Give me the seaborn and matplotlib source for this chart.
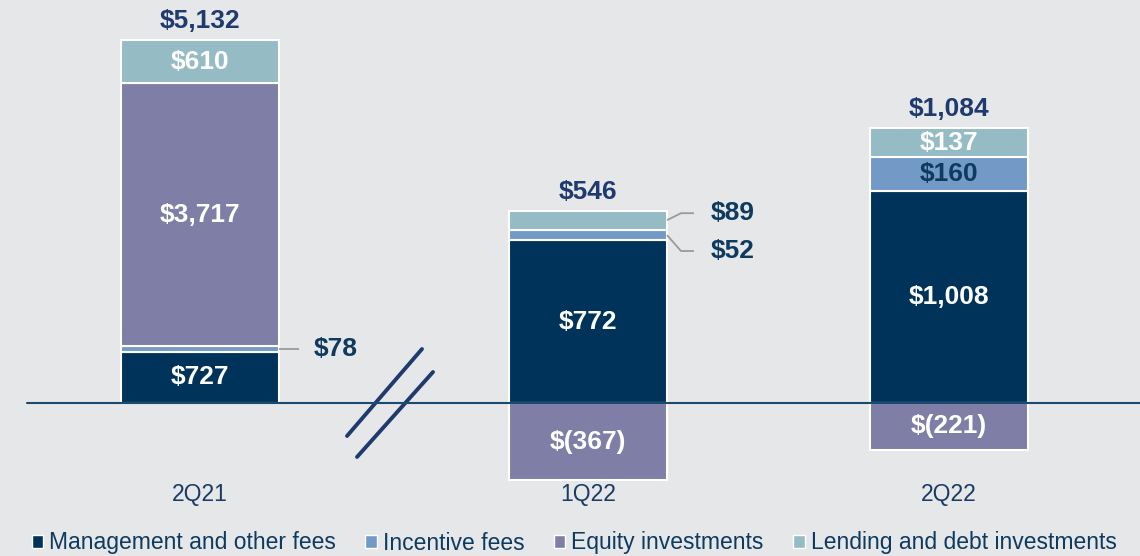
import matplotlib
matplotlib.use("Agg")
import matplotlib.pyplot as plt
from matplotlib.patches import Patch
import seaborn as sns

# data
periods = ["2Q21", "1Q22", "2Q22"]
management_fees = [727, 772, 1008]
incentive_fees = [78, 52, 160]
equity_investments = [3717, -367, -221]
lending_debt = [610, 89, 137]
totals = [5132, 546, 1084]
series_names = [
    "Management and other fees",
    "Incentive fees",
    "Equity investments",
    "Lending and debt investments",
]

# style / layout
colors = ["#003359", "#739ac7", "#7e7ea6", "#95bbc5"]
bg = "#e6e7e9"
navy = "#1f3a6e"
callout_color = "#0e3a60"
x_pos = [200, 588, 949]
bar_width = 158
bar_scale = [0.336, 1.0, 1.0]  # 2Q21 drawn on broken (compressed) axis
ppu = 0.2105  # pixels per unit
W, H = 1140, 556
base_px = 403

sns.set_theme(style="white", context="paper")
plt.rcParams["font.family"] = ["Liberation Sans", "DejaVu Sans"]

fig = plt.figure(figsize=(W / 100, H / 100), dpi=100, facecolor=bg)
ax = fig.add_axes([0, 0, 1, 1], facecolor=bg)
ax.set_xlim(0, W)
ax.set_ylim(-(H - base_px) / ppu, base_px / ppu)
ax.axis("off")


def py(p):
    # pixel row (from top) -> data y
    return (base_px - p) / ppu


series = [management_fees, incentive_fees, equity_investments, lending_debt]
# (dy px, line length px, text gap px, text)
callouts = {
    (0, 1): (0, 20, 35, "$78"),
    (1, 1): (16, 27, 44, "$52"),
    (1, 3): (-7, 27, 44, "$89"),
}
dark_labels = {(2, 1)}

for i, x in enumerate(x_pos):
    pos_b, neg_b = 0.0, 0.0
    for j, vals in enumerate(series):
        v = vals[i]
        h = v * bar_scale[i]
        bottom = pos_b if h >= 0 else neg_b
        ax.bar(x, h, bottom=bottom, width=bar_width, color=colors[j],
               edgecolor="white", linewidth=1.5)
        mid = bottom + h / 2
        if h >= 0:
            pos_b += h
        else:
            neg_b += h
        label = f"${v:,}" if v >= 0 else f"$({-v:,})"
        if (i, j) in callouts:
            dy, ln, gap, txt = callouts[(i, j)]
            edge = x + bar_width / 2
            ylab = mid - dy / ppu
            knee = edge + (14 if dy else ln / 2)
            ax.plot([edge, knee, edge + ln], [mid, ylab, ylab],
                    color="#9a9a9a", linewidth=1.3, solid_capstyle="butt")
            ax.text(edge + gap, ylab, txt, color=callout_color, fontsize=19,
                    fontweight="bold", ha="left", va="center")
        else:
            c = callout_color if (i, j) in dark_labels else "white"
            ax.text(x, mid, label, color=c, fontsize=19, fontweight="bold",
                    ha="center", va="center")
    ax.text(x, pos_b + 19 / ppu, f"${totals[i]:,}", color=navy, fontsize=19,
            fontweight="bold", ha="center", va="center")
    ax.text(x, py(494), periods[i], color="#1a3c64", fontsize=16.5,
            ha="center", va="center")

# zero line
ax.plot([27, W], [0, 0], color="#1a4a70", linewidth=1.5, zorder=5)

# axis break marks
ax.plot([347, 422], [py(436), py(349)], color=navy, linewidth=2.8)
ax.plot([357, 433], [py(457), py(372)], color=navy, linewidth=2.8)

handles = [Patch(facecolor=c, edgecolor="white", linewidth=1) for c in colors]
leg = fig.legend(handles, series_names, loc="center", ncol=4,
                 bbox_to_anchor=(574 / W, 1 - 543 / H), frameon=False,
                 fontsize=16.5, handlelength=0.5, handleheight=0.5,
                 handletextpad=0.25, columnspacing=1.3)
for t in leg.get_texts():
    t.set_color(callout_color)

fig.savefig("out.png", dpi=100, facecolor=bg)
